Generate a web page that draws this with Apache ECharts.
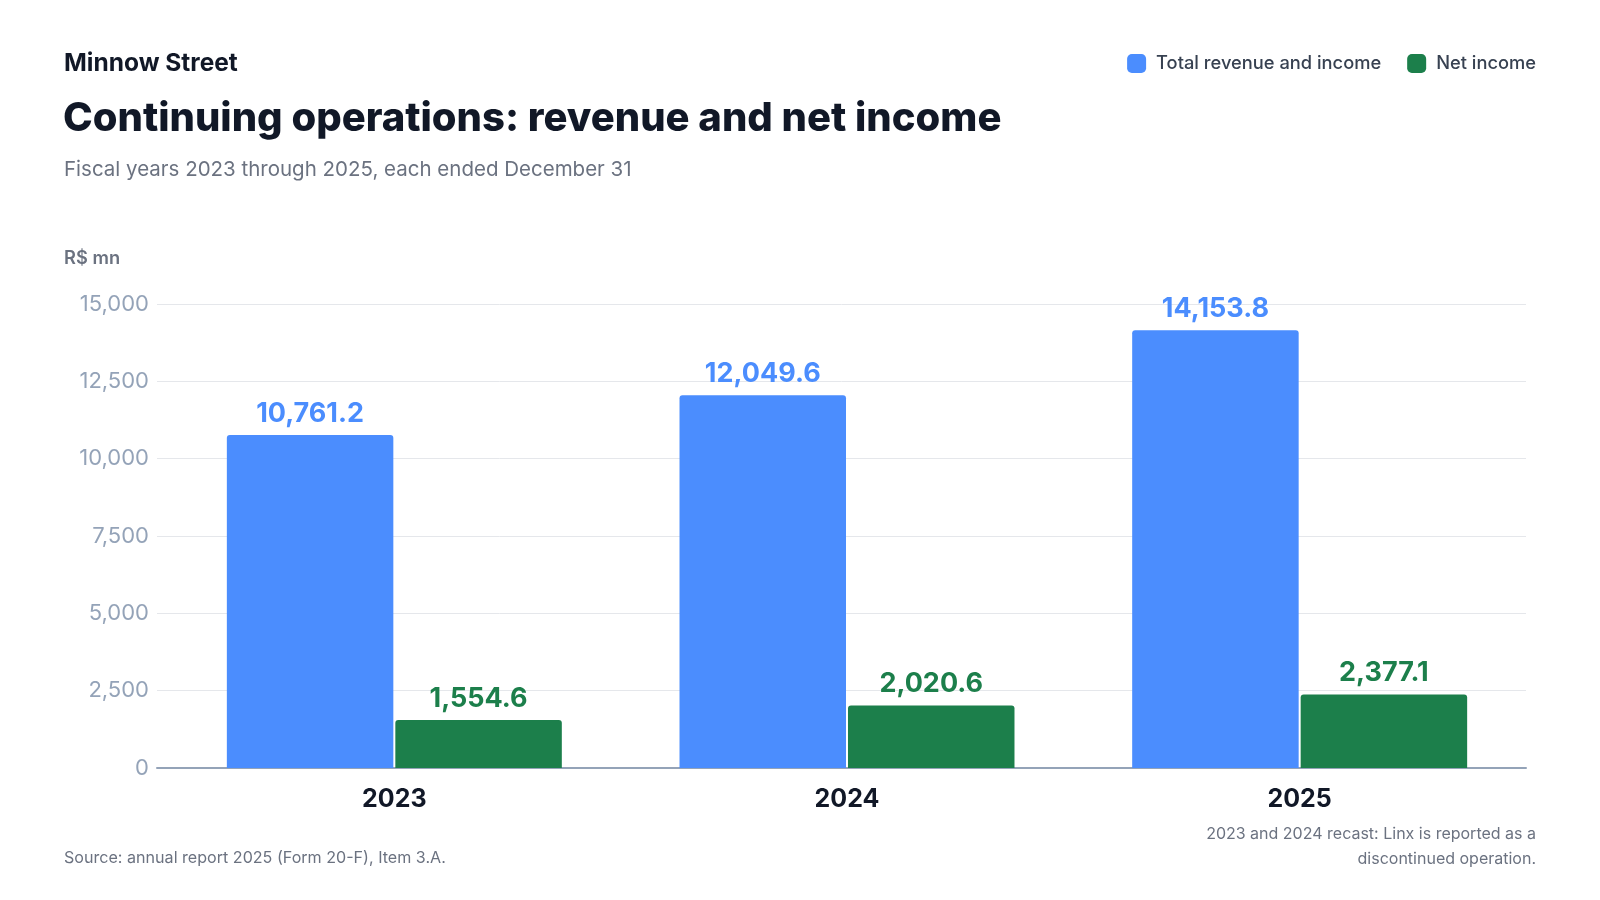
<!DOCTYPE html>
<html lang="en">
<head>
    <meta charset="UTF-8">
    <title>Continuing operations: revenue and net income</title>
    <script src="https://cdn.jsdelivr.net/npm/echarts@6/dist/echarts.min.js"></script>
    <style>
        html, body {
            margin: 0;
            padding: 0;
            background: #ffffff;
        }
        #main {
            width: 1600px;
            height: 900px;
        }
    </style>
</head>
<body>
<div id="main"></div>
<script>
    var years = ['2023', '2024', '2025'];
    var revenue = [10761.2, 12049.6, 14153.8];
    var netIncome = [1554.6, 2020.6, 2377.1];
    var seriesNames = ['Total revenue and income', 'Net income'];
    var yMin = 0, yMax = 15000, yStep = 2500;

    var font = 'Inter, "Noto Sans", sans-serif';
    var blue = '#4b8dfe';
    var green = '#1c7f4b';
    var muted = '#6b7280';

    function fmt(v) {
        return v.toLocaleString('en-US', {minimumFractionDigits: 1, maximumFractionDigits: 1});
    }

    var chart = echarts.init(document.getElementById('main'), null, {renderer: 'canvas'});

    // grid 0 = axis frame (gridlines, y labels, baseline), grid 1 = bars, inset a bit on the left
    var option = {
        backgroundColor: '#ffffff',
        textStyle: {fontFamily: font},
        title: [
            {
                text: 'Minnow Street',
                left: 64, top: 51, padding: 0,
                textStyle: {fontFamily: font, fontSize: 24.5, fontWeight: 700, color: '#111827'}
            },
            {
                text: 'Continuing operations: revenue and net income',
                left: 63, top: 99, padding: 0,
                textStyle: {fontFamily: font, fontSize: 40, fontWeight: 800, color: '#111827'}
            },
            {
                text: 'Fiscal years 2023 through 2025, each ended December 31',
                left: 64, top: 159, padding: 0,
                textStyle: {fontFamily: font, fontSize: 20.5, fontWeight: 400, color: muted}
            },
            {
                text: 'R$ mn',
                left: 64, top: 250, padding: 0,
                textStyle: {fontFamily: font, fontSize: 18.3, fontWeight: 600, color: muted}
            },
            {
                text: 'Source: annual report 2025 (Form 20-F), Item 3.A.',
                left: 64, top: 850, padding: 0,
                textStyle: {fontFamily: font, fontSize: 16.1, fontWeight: 400, color: muted}
            }
        ],
        graphic: [
            {
                type: 'text',
                right: 64, top: 822,
                style: {
                    text: '2023 and 2024 recast: Linx is reported as a',
                    fontFamily: font, fontSize: 16, fill: muted, lineHeight: 24.5
                }
            },
            {
                type: 'text',
                right: 64, top: 846.5,
                style: {
                    text: 'discontinued operation.',
                    fontFamily: font, fontSize: 16, fill: muted, lineHeight: 24.5
                }
            }
        ],
        legend: {
            data: seriesNames,
            right: 64, top: 54, padding: 0,
            itemWidth: 19, itemHeight: 19,
            itemGap: 26,
            icon: 'roundRect',
            textStyle: {fontFamily: font, fontSize: 18.3, fontWeight: 500, color: '#374151', padding: [0, 0, 0, 5]}
        },
        grid: [
            {left: 157, right: 74, top: 304, bottom: 132, containLabel: false},
            {left: 168, right: 74, top: 304, bottom: 132, containLabel: false}
        ],
        xAxis: [
            {
                type: 'category',
                gridIndex: 0,
                data: years,
                axisTick: {show: false},
                axisLabel: {show: false},
                axisLine: {lineStyle: {color: '#94a3b8', width: 2}}
            },
            {
                type: 'category',
                gridIndex: 1,
                data: years,
                axisTick: {show: false},
                axisLine: {show: false},
                axisLabel: {
                    fontFamily: font, fontSize: 25, fontWeight: 700, color: '#111827', margin: 19
                }
            }
        ],
        yAxis: [
            {
                type: 'value',
                gridIndex: 0,
                min: yMin, max: yMax, interval: yStep,
                axisLine: {show: false},
                axisTick: {show: false},
                splitLine: {lineStyle: {color: '#e5e7eb', width: 1}},
                axisLabel: {
                    fontFamily: font, fontSize: 22, color: '#94a3b8', margin: 8,
                    formatter: function (v) { return v.toLocaleString('en-US'); }
                }
            },
            {
                type: 'value',
                gridIndex: 1,
                min: yMin, max: yMax, interval: yStep,
                axisLine: {show: false},
                axisTick: {show: false},
                splitLine: {show: false},
                axisLabel: {show: false}
            }
        ],
        series: [
            {
                name: seriesNames[0],
                type: 'bar',
                xAxisIndex: 1, yAxisIndex: 1,
                data: revenue,
                barGap: '1.2%',
                barCategoryGap: '26%',
                itemStyle: {color: blue, borderRadius: [3, 3, 0, 0]},
                label: {
                    show: true, position: 'top', distance: 8,
                    fontFamily: font, fontSize: 27, fontWeight: 700, color: blue,
                    formatter: function (p) { return fmt(p.value); }
                }
            },
            {
                name: seriesNames[1],
                type: 'bar',
                xAxisIndex: 1, yAxisIndex: 1,
                data: netIncome,
                itemStyle: {color: green, borderRadius: [3, 3, 0, 0]},
                label: {
                    show: true, position: 'top', distance: 8,
                    fontFamily: font, fontSize: 27, fontWeight: 700, color: green,
                    formatter: function (p) { return fmt(p.value); }
                }
            }
        ]
    };

    chart.setOption(option);
</script>
</body>
</html>
